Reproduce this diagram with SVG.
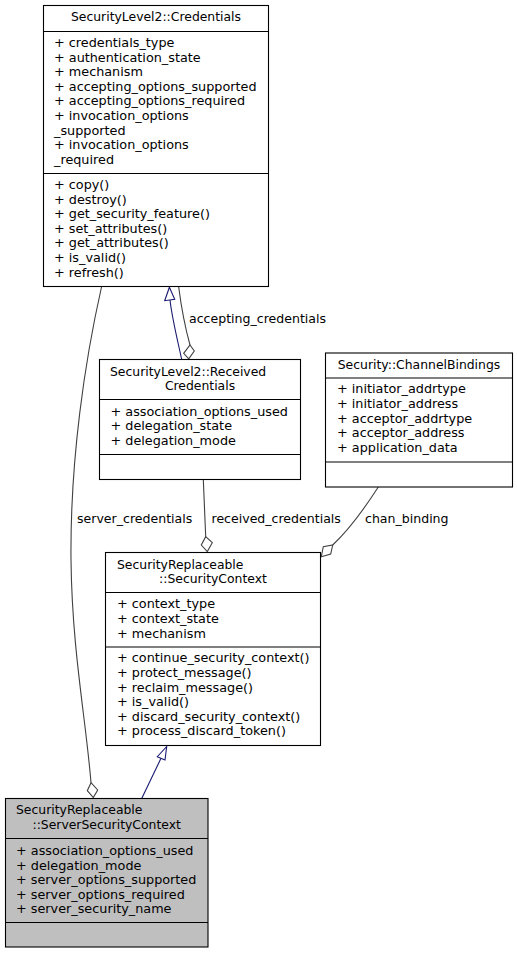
<svg xmlns="http://www.w3.org/2000/svg" width="517" height="955" viewBox="0 0 517 955">
<style>
text{font-family:"DejaVu Sans","Liberation Sans",sans-serif;font-size:12.4px;fill:#000}
.m{font-size:12.8px}
.lbl{font-size:12.55px}
.box{fill:#fff;stroke:#000;stroke-width:1.1}
.focus{fill:#bfbfbf;stroke:#000;stroke-width:1.1}
.sep{stroke:#000;stroke-width:1.1}
.mid{text-anchor:middle}
.use{fill:none;stroke:#404040;stroke-width:1.1}
.usehead{fill:#fff;stroke:#404040;stroke-width:1.1}
.inh{fill:none;stroke:#191970;stroke-width:1.1}
.inhhead{fill:#fff;stroke:#191970;stroke-width:1.1}
</style>
<rect width="517" height="955" fill="#fff"/>
<g id="connectors">
  <g id="e-received-inherits-credentials">
    <path class="inh" d="M181.7,359.5 C177.5,340 172,318 170,300"/>
    <polygon class="inhhead" points="169.4,287.3 164.7,300.7 174.7,299.3"/>
  </g>
  <g id="e-accepting-credentials">
    <path class="use" d="M178.7,287 C181,305 185,327 190,345"/>
    <polygon class="usehead" points="190,345 194.3,351 188.7,358.8 183.7,353.3"/>
    <text class="lbl" x="189" y="322.5">accepting_credentials</text>
  </g>
  <g id="e-server-credentials">
    <path class="use" d="M101.5,287 C85,360 70,460 71,560 C72,650 86,720 91,782.7"/>
    <polygon class="usehead" points="91,782.7 97.7,790 93.3,797.6 87.3,790.7"/>
    <text class="lbl" x="77" y="522.5">server_credentials</text>
  </g>
  <g id="e-received-credentials">
    <path class="use" d="M203.3,479.5 L205.7,536.7"/>
    <polygon class="usehead" points="205.7,536.7 212.3,542.7 207.3,551.5 201.3,545"/>
    <text class="lbl" x="211.5" y="522.5">received_credentials</text>
  </g>
  <g id="e-chan-binding">
    <path class="use" d="M378.3,487 C368,503 352,527 332.7,545"/>
    <polygon class="usehead" points="332.7,545 330.7,554 321.3,556.7 323.3,546.7"/>
    <text class="lbl" x="365" y="522.5">chan_binding</text>
  </g>
  <g id="e-server-inherits-context">
    <path class="inh" d="M141.7,798.5 L161,758.3"/>
    <polygon class="inhhead" points="166.7,746.5 157.3,756.7 165,760"/>
  </g>
</g>
<g id="node-credentials">
  <rect class="box" x="43.5" y="5.5" width="225" height="281"/>
  <line class="sep" x1="43.5" y1="31.5" x2="268.5" y2="31.5"/>
  <line class="sep" x1="43.5" y1="173.5" x2="268.5" y2="173.5"/>
  <text class="mid" x="156" y="21">SecurityLevel2::Credentials</text>
  <text class="m" x="54" y="47"><tspan x="54">+ credentials_type</tspan><tspan x="54" dy="14.6">+ authentication_state</tspan><tspan x="54" dy="14.6">+ mechanism</tspan><tspan x="54" dy="14.6">+ accepting_options_supported</tspan><tspan x="54" dy="14.6">+ accepting_options_required</tspan><tspan x="54" dy="14.6">+ invocation_options</tspan><tspan x="54" dy="14.6">_supported</tspan><tspan x="54" dy="14.6">+ invocation_options</tspan><tspan x="54" dy="14.6">_required</tspan></text>
  <text class="m" x="54" y="189"><tspan x="54">+ copy()</tspan><tspan x="54" dy="14.6">+ destroy()</tspan><tspan x="54" dy="14.6">+ get_security_feature()</tspan><tspan x="54" dy="14.6">+ set_attributes()</tspan><tspan x="54" dy="14.6">+ get_attributes()</tspan><tspan x="54" dy="14.6">+ is_valid()</tspan><tspan x="54" dy="14.6">+ refresh()</tspan></text>
</g>
<g id="node-received-credentials">
  <rect class="box" x="99.5" y="359.5" width="201" height="120"/>
  <line class="sep" x1="99.5" y1="399.5" x2="300.5" y2="399.5"/>
  <line class="sep" x1="99.5" y1="454.5" x2="300.5" y2="454.5"/>
  <text x="110" y="375.5">SecurityLevel2::Received</text>
  <text class="mid" x="200" y="390">Credentials</text>
  <text class="m" x="110.5" y="415.5"><tspan x="110.5">+ association_options_used</tspan><tspan x="110.5" dy="14.5">+ delegation_state</tspan><tspan x="110.5" dy="14.5">+ delegation_mode</tspan></text>
</g>
<g id="node-channel-bindings">
  <rect class="box" x="325.5" y="353" width="187" height="134"/>
  <line class="sep" x1="325.5" y1="378" x2="512.5" y2="378"/>
  <line class="sep" x1="325.5" y1="462" x2="512.5" y2="462"/>
  <text class="mid" x="419" y="368.5">Security::ChannelBindings</text>
  <text class="m" x="337" y="393.3"><tspan x="337">+ initiator_addrtype</tspan><tspan x="337" dy="14.6">+ initiator_address</tspan><tspan x="337" dy="14.6">+ acceptor_addrtype</tspan><tspan x="337" dy="14.6">+ acceptor_address</tspan><tspan x="337" dy="14.6">+ application_data</tspan></text>
</g>
<g id="node-security-context">
  <rect class="box" x="105.5" y="552.5" width="215" height="193"/>
  <line class="sep" x1="105.5" y1="592.5" x2="320.5" y2="592.5"/>
  <line class="sep" x1="105.5" y1="647" x2="320.5" y2="647"/>
  <text x="117" y="569">SecurityReplaceable</text>
  <text class="mid" x="213" y="583">::SecurityContext</text>
  <text class="m" x="117" y="608.3"><tspan x="117">+ context_type</tspan><tspan x="117" dy="14.6">+ context_state</tspan><tspan x="117" dy="14.6">+ mechanism</tspan></text>
  <text class="m" x="117" y="662.3"><tspan x="117">+ continue_security_context()</tspan><tspan x="117" dy="14.6">+ protect_message()</tspan><tspan x="117" dy="14.6">+ reclaim_message()</tspan><tspan x="117" dy="14.6">+ is_valid()</tspan><tspan x="117" dy="14.6">+ discard_security_context()</tspan><tspan x="117" dy="14.6">+ process_discard_token()</tspan></text>
</g>
<g id="node-server-security-context">
  <rect class="focus" x="5.5" y="798.5" width="202.5" height="148.5"/>
  <line class="sep" x1="5.5" y1="838.5" x2="208" y2="838.5"/>
  <line class="sep" x1="5.5" y1="922.5" x2="208" y2="922.5"/>
  <text x="16" y="814.3">SecurityReplaceable</text>
  <text class="mid" x="106.7" y="828.7">::ServerSecurityContext</text>
  <text class="m" x="16" y="855"><tspan x="16">+ association_options_used</tspan><tspan x="16" dy="14.5">+ delegation_mode</tspan><tspan x="16" dy="14.5">+ server_options_supported</tspan><tspan x="16" dy="14.5">+ server_options_required</tspan><tspan x="16" dy="14.5">+ server_security_name</tspan></text>
</g>
</svg>
